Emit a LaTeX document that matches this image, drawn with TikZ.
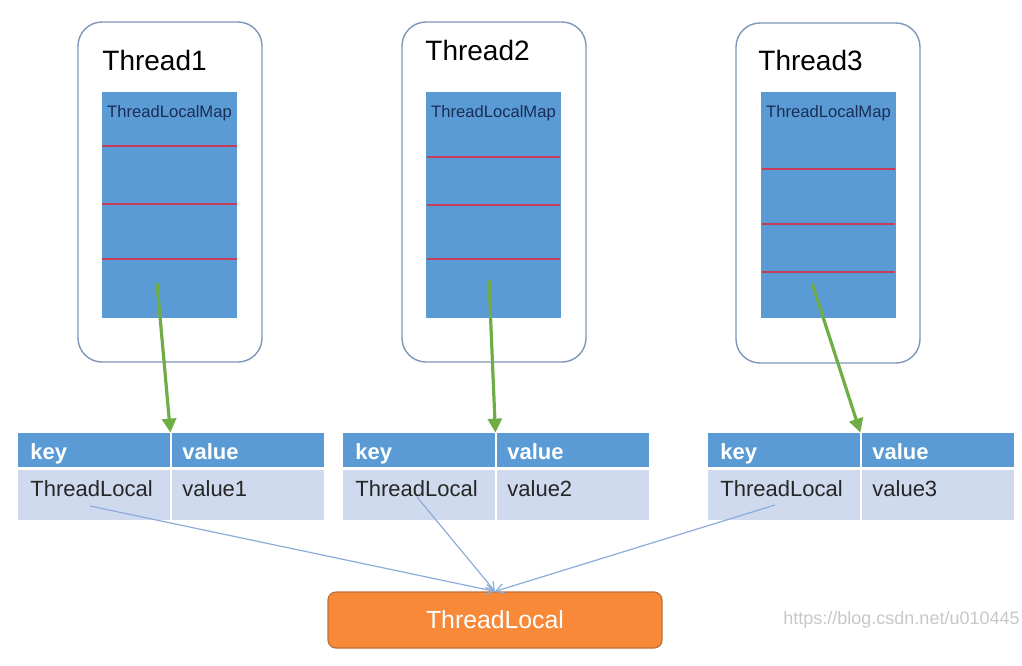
\documentclass[tikz,border=0pt]{standalone}
\usepackage{fontspec}
\setmainfont{Liberation Sans}
\usepackage{xcolor}
\usepackage{tikz}
\usetikzlibrary{positioning,arrows.meta}

\definecolor{threadborder}{RGB}{125,150,185}
\definecolor{mapblue}{RGB}{91,155,213}
\definecolor{maptext}{RGB}{25,45,85}
\definecolor{slotred}{RGB}{200,60,85}
\definecolor{arrowgreen}{RGB}{112,173,71}
\definecolor{headblue}{RGB}{91,155,213}
\definecolor{cellblue}{RGB}{207,218,238}
\definecolor{linkblue}{RGB}{140,172,218}
\definecolor{orangefill}{RGB}{247,137,56}
\definecolor{orangeborder}{RGB}{190,110,60}

\begin{document}
\begin{tikzpicture}[
                x=0.5pt, y=-0.5pt,
                threadbox/.style={draw=threadborder, line width=0.7pt, rounded corners=12pt, minimum width=92pt, minimum height=170pt, inner sep=0pt},
                thread_name/.style={anchor=west, font=\fontsize{14}{16}\selectfont, inner sep=0pt},
                mapbox/.style={fill=mapblue, minimum width=67.5pt, minimum height=113pt, inner sep=0pt},
                map_label/.style={text=maptext, font=\fontsize{8.3}{10}\selectfont, inner sep=0pt},
                slot/.style={draw=slotred, line width=0.6pt},
                maparrow/.style={draw=arrowgreen, line width=1.6pt, -{Triangle[length=7pt,width=7pt]}},
                headcell/.style={fill=headblue, minimum width=76pt, minimum height=17pt, inner sep=0pt},
                bodycell/.style={fill=cellblue, minimum width=76pt, minimum height=25pt, inner sep=0pt},
                head_text/.style={anchor=base west, text=white, font=\bfseries\fontsize{11}{13}\selectfont, inner sep=0pt},
                body_text/.style={anchor=base west, text=black!85, font=\fontsize{11}{13}\selectfont, inner sep=0pt},
                keyarrow/.style={draw=linkblue, line width=0.6pt, -{Straight Barb[length=4pt,width=5pt]}},
                localbox/.style={draw=orangeborder, fill=orangefill, rounded corners=4pt, line width=0.6pt, minimum width=167pt, minimum height=28pt, text=white, font=\fontsize{12.4}{14}\selectfont}
            ]
                \useasboundingbox (0,0) rectangle (1022,665);

                % --- Thread1 ---
                \node[threadbox] (T1) at (170,192) {};
                \node[thread_name] (T1name) at (102,60) {Thread1};
                \node[mapbox] (M1) at (169.5,205) {};
                \node[map_label] (M1name) at (169.5,113) {ThreadLocalMap};
                \draw[slot] (102,146) -- (237,146);
                \draw[slot] (102,204) -- (237,204);
                \draw[slot] (102,259) -- (237,259);
                \coordinate (M1out) at (157,283);

                % --- Thread2 ---
                \node[threadbox] (T2) at (494,192) {};
                \node[thread_name] (T2name) at (425,50) {Thread2};
                \node[mapbox] (M2) at (493.5,205) {};
                \node[map_label] (M2name) at (493.5,113) {ThreadLocalMap};
                \draw[slot] (427,157) -- (560,157);
                \draw[slot] (427,205) -- (560,205);
                \draw[slot] (427,259) -- (560,259);
                \coordinate (M2out) at (489,280);

                % --- Thread3 ---
                \node[threadbox] (T3) at (828,193) {};
                \node[thread_name] (T3name) at (758,60) {Thread3};
                \node[mapbox] (M3) at (828.5,205) {};
                \node[map_label] (M3name) at (828.5,113) {ThreadLocalMap};
                \draw[slot] (762,169) -- (895,169);
                \draw[slot] (762,224) -- (895,224);
                \draw[slot] (762,272) -- (895,272);
                \coordinate (M3out) at (812,283);

                % --- Entry tables ---
                \node[headcell] (K1) at (94,450) {};
                \node[headcell] (V1) at (247.5,450) {};
                \node[bodycell] (KB1) at (94,495) {};
                \node[bodycell] (VB1) at (247.5,495) {};
                \node[head_text] (K1t) at (30,459) {key};
                \node[head_text] (V1t) at (182,459) {value};
                \node[body_text] (KB1t) at (30,496) {ThreadLocal};
                \node[body_text] (VB1t) at (182,496) {value1};
                \coordinate (KB1out) at (90,506);

                \node[headcell] (K2) at (419,450) {};
                \node[headcell] (V2) at (572.5,450) {};
                \node[bodycell] (KB2) at (419,495) {};
                \node[bodycell] (VB2) at (572.5,495) {};
                \node[head_text] (K2t) at (355,459) {key};
                \node[head_text] (V2t) at (507,459) {value};
                \node[body_text] (KB2t) at (355,496) {ThreadLocal};
                \node[body_text] (VB2t) at (507,496) {value2};
                \coordinate (KB2out) at (417,497);

                \node[headcell] (K3) at (784,450) {};
                \node[headcell] (V3) at (937.5,450) {};
                \node[bodycell] (KB3) at (784,495) {};
                \node[bodycell] (VB3) at (937.5,495) {};
                \node[head_text] (K3t) at (720,459) {key};
                \node[head_text] (V3t) at (872,459) {value};
                \node[body_text] (KB3t) at (720,496) {ThreadLocal};
                \node[body_text] (VB3t) at (872,496) {value3};
                \coordinate (KB3out) at (775,505);

                % --- ThreadLocal ---
                \node[localbox] (TL) at (495,620) {ThreadLocal};
                \node[anchor=west, text=black!22, font=\fontsize{9}{11}\selectfont, inner sep=0pt] (mark) at (783,620) {https://blog.csdn.net/u010445};

                % --- arrows ---
                \draw[maparrow] (M1out) -- (K1.north east);
                \draw[maparrow] (M2out) -- (K2.north east);
                \draw[maparrow] (M3out) -- (K3.north east);

                \draw[keyarrow] (KB1out) -- (TL.north);
                \draw[keyarrow] (KB2out) -- (TL.north);
                \draw[keyarrow] (KB3out) -- (TL.north);

            \end{tikzpicture}
\end{document}
